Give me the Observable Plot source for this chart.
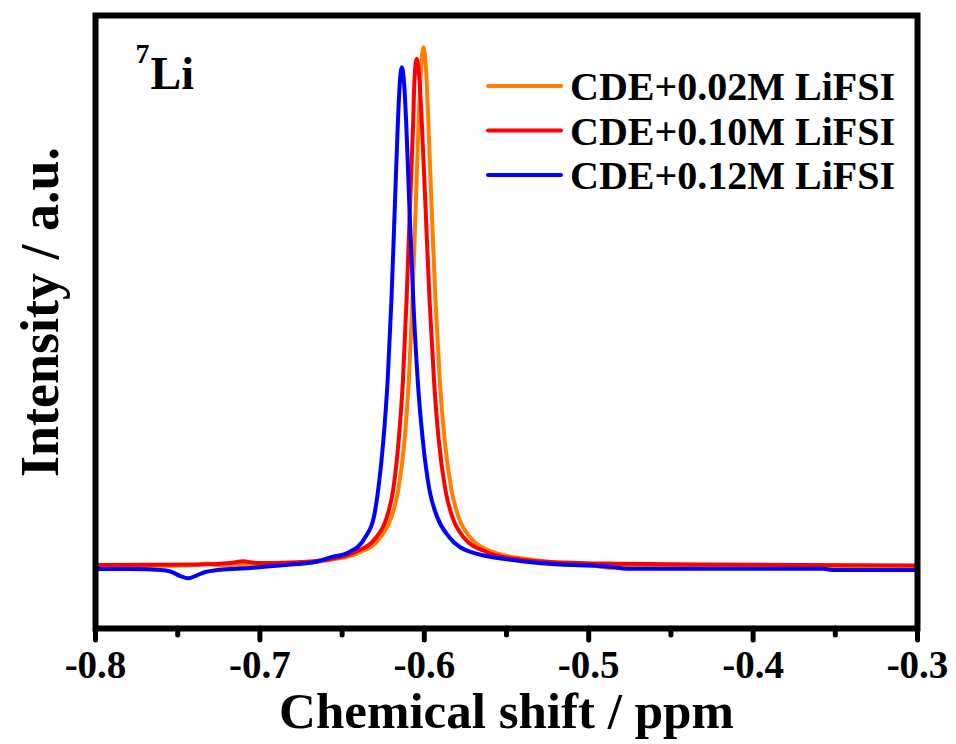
<!DOCTYPE html>
<html><head><meta charset="utf-8">
<script src="https://cdn.jsdelivr.net/npm/d3@7"></script>
<script src="https://cdn.jsdelivr.net/npm/@observablehq/plot@0.6"></script>
<style>
body{margin:0;background:#fff;}
#wrap{position:relative;width:956px;height:744px;}
#legend{position:absolute;left:0;top:0;pointer-events:none;}
</style></head><body><div id="wrap"></div>
<script>
const seriesNames = ["CDE+0.02M LiFSI","CDE+0.10M LiFSI","CDE+0.12M LiFSI"];
const seriesColors = ["#FF8000","#FF0000","#0000FF"];
const xTicks = [-0.8,-0.7,-0.6,-0.5,-0.4,-0.3];
const xMinorTicks = [-0.75,-0.65,-0.55,-0.45,-0.35];
const xTitle = "Chemical shift / ppm";
const yTitle = "Intensity / a.u.";
const nucleusMass = "7";
const nucleus = "Li";

// CDE+0.02M LiFSI (orange)
const shift002 = [-0.8,-0.7666,-0.7392,-0.732,-0.7253,-0.6998,-0.6755,-0.6542,-0.6391,-0.6266,-0.6200,-0.6159,-0.6120,-0.6094,-0.6072,-0.6052,-0.6035,-0.6021,-0.6005,-0.5989,-0.5975,-0.5956,-0.5932,-0.5906,-0.5876,-0.5834,-0.5791,-0.5722,-0.5579,-0.5377,-0.5175,-0.4993,-0.4871,-0.478,-0.4324,-0.3];
const int002 = [0,0.001,0.0029,0.0058,0.0019,0.0029,0.0058,0.0144,0.0275,0.0563,0.0948,0.1462,0.2423,0.3577,0.5115,0.6942,0.8519,0.9538,0.9987,0.9538,0.8519,0.6942,0.5115,0.3577,0.2423,0.1462,0.0948,0.0563,0.0275,0.0144,0.0067,0.0029,-0.0029,0,0.001,0.001];

// CDE+0.10M LiFSI (red)
const shift010 = [-0.8,-0.7362,-0.718,-0.7101,-0.7022,-0.6815,-0.6694,-0.6572,-0.6422,-0.6292,-0.6228,-0.6190,-0.6156,-0.6130,-0.6108,-0.6087,-0.6068,-0.6060,-0.6046,-0.6029,-0.6015,-0.5993,-0.5968,-0.5941,-0.5912,-0.5871,-0.5829,-0.5761,-0.5618,-0.5438,-0.5175,-0.481,-0.4324,-0.3717,-0.3];
const int010 = [0.0029,0.0038,0.0067,0.0102,0.0067,0.0077,0.0096,0.0144,0.0275,0.0563,0.0948,0.1462,0.2423,0.3577,0.5115,0.6942,0.8519,0.9346,0.9763,0.9346,0.8519,0.6942,0.5115,0.3577,0.2423,0.1462,0.0948,0.0563,0.0275,0.0144,0.0077,0.0052,0.0038,0.0029,0.0019];

// CDE+0.12M LiFSI (blue)
const shift012 = [-0.8,-0.7787,-0.7605,-0.7544,-0.7484,-0.7435,-0.7386,-0.7332,-0.7259,-0.7058,-0.6815,-0.6663,-0.6572,-0.6458,-0.6359,-0.6307,-0.6281,-0.6249,-0.6223,-0.6200,-0.6179,-0.6161,-0.6150,-0.6137,-0.6122,-0.6110,-0.6091,-0.6067,-0.6040,-0.6009,-0.5968,-0.5921,-0.5848,-0.5714,-0.5438,-0.5175,-0.4932,-0.4859,-0.477,-0.4324,-0.3577,-0.3504,-0.3];
const int012 = [-0.0048,-0.005,-0.0067,-0.0096,-0.0183,-0.0225,-0.0173,-0.0106,-0.0067,-0.0029,0.0038,0.0087,0.0173,0.0275,0.0563,0.0948,0.1462,0.2423,0.3577,0.5115,0.6942,0.8519,0.925,0.9602,0.925,0.8519,0.6942,0.5115,0.3577,0.2423,0.1462,0.0948,0.0563,0.0275,0.0115,0.0038,0.001,-0.001,-0.0044,-0.0044,-0.0044,-0.0067,-0.0067];

const seriesShift = [shift002, shift010, shift012];
const seriesInt = [int002, int010, int012];
const rows = seriesNames.map((name, i) => seriesShift[i].map((s, j) => ({series: name, shift: s, intensity: seriesInt[i][j]})));

const font = "'Liberation Serif','Times New Roman',serif";

const chart = Plot.plot({
  width: 956, height: 744,
  marginLeft: 95, marginRight: 39, marginTop: 15, marginBottom: 116,
  x: {domain: [-0.8, -0.3], axis: null},
  y: {domain: [-0.1192, 1.0596], axis: null},
  style: {fontFamily: font, fontWeight: "bold", background: "white", color: "black"},
  marks: [
    ...rows.map((r, i) => Plot.line(r, {x: "shift", y: "intensity", stroke: seriesColors[i], strokeWidth: 4, curve: "monotone-x"})),
    Plot.frame({stroke: "black", strokeWidth: 6}),
    Plot.axisX(xTicks, {anchor: "bottom", tickSize: 12, tickPadding: 10, strokeWidth: 5, strokeLinecap: "round", tickFormat: d => d.toFixed(1), fontSize: 39, fontWeight: "bold", fontFamily: font, label: null, fill: "black"}),
    Plot.axisX(xMinorTicks, {anchor: "bottom", tickSize: 7, strokeWidth: 5, strokeLinecap: "round", tickFormat: () => "", label: null}),
    Plot.text([xTitle], {frameAnchor: "bottom", dy: 83, fontSize: 51, fontWeight: "bold", fontFamily: font, lineAnchor: "middle", fill: "black"}),
    Plot.text([yTitle], {frameAnchor: "left", textAnchor: "middle", dx: -55, dy: -10, rotate: -90, fontSize: 54, fontWeight: "bold", fontFamily: font, lineAnchor: "middle", fill: "black"}),
    Plot.text([nucleus], {frameAnchor: "top-left", dx: 55, dy: 59, textAnchor: "start", lineAnchor: "middle", fontSize: 46, fontWeight: "bold", fontFamily: font, fill: "black"}),
    Plot.text([nucleusMass], {frameAnchor: "top-left", dx: 40, dy: 39, textAnchor: "start", lineAnchor: "middle", fontSize: 28, fontWeight: "bold", fontFamily: font, fill: "black"})
  ]
});

const wrap = document.getElementById("wrap");
wrap.appendChild(chart);

// legend overlay
const ns = "http://www.w3.org/2000/svg";
const leg = document.createElementNS(ns, "svg");
leg.setAttribute("id", "legend");
leg.setAttribute("width", 956);
leg.setAttribute("height", 744);
seriesNames.forEach((name, i) => {
  const cy = 86 + i * 44.5;
  const ln = document.createElementNS(ns, "line");
  ln.setAttribute("x1", 488); ln.setAttribute("x2", 561);
  ln.setAttribute("y1", cy); ln.setAttribute("y2", cy);
  ln.setAttribute("stroke", seriesColors[i]); ln.setAttribute("stroke-width", 4);
  ln.setAttribute("stroke-linecap", "round");
  leg.appendChild(ln);
  const tx = document.createElementNS(ns, "text");
  tx.setAttribute("x", 570); tx.setAttribute("y", cy);
  tx.setAttribute("dy", "0.35em");
  tx.setAttribute("font-family", font);
  tx.setAttribute("font-weight", "bold");
  tx.setAttribute("font-size", 40);
  tx.textContent = name;
  leg.appendChild(tx);
});
wrap.appendChild(leg);
</script></body></html>
